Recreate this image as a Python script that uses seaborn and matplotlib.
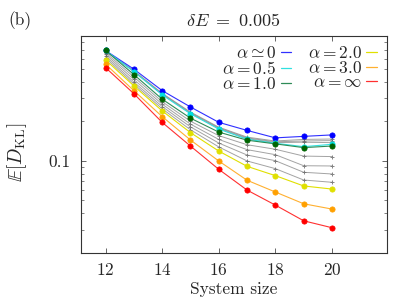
import numpy as np
import pandas as pd
import matplotlib
matplotlib.use("Agg")
import matplotlib.pyplot as plt
import seaborn as sns
from matplotlib.lines import Line2D
from matplotlib.ticker import FixedLocator, NullFormatter

# 데이터
sizes = [12, 13, 14, 15, 16, 17, 18, 19, 20]

alpha_0 = [0.695, 0.501, 0.344, 0.258, 0.197, 0.171, 0.150, 0.154, 0.158]
alpha_05 = [0.695, 0.480, 0.319, 0.229, 0.175, 0.1465, 0.1365, 0.1285, 0.134]
alpha_1 = [0.695, 0.456, 0.296, 0.212, 0.166, 0.144, 0.135, 0.1264, 0.130]
alpha_2 = [0.590, 0.374, 0.241, 0.1645, 0.119, 0.091, 0.0773, 0.0645, 0.0611]
alpha_3 = [0.547, 0.344, 0.218, 0.1446, 0.100, 0.0713, 0.058, 0.0472, 0.043]
alpha_inf = [0.515, 0.326, 0.197, 0.130, 0.0864, 0.060, 0.0461, 0.035, 0.031]

# 중간 alpha 값들 (회색 선)
gray_lines = [
    [0.690, 0.487, 0.328, 0.236, 0.181, 0.152, 0.142, 0.146, 0.147],
    [0.690, 0.484, 0.325, 0.233, 0.179, 0.150, 0.140, 0.142, 0.143],
    [0.690, 0.482, 0.322, 0.231, 0.177, 0.148, 0.138, 0.139, 0.138],
    [0.670, 0.437, 0.283, 0.201, 0.156, 0.133, 0.1228, 0.109, 0.108],
    [0.650, 0.418, 0.271, 0.191, 0.146, 0.122, 0.1117, 0.092, 0.0916],
    [0.630, 0.400, 0.260, 0.182, 0.137, 0.111, 0.1005, 0.082, 0.0796],
    [0.610, 0.386, 0.250, 0.173, 0.128, 0.100, 0.0874, 0.0716, 0.0688],
]

labels = [r'$\alpha\simeq0$', r'$\alpha=0.5$', r'$\alpha=1.0$',
          r'$\alpha=2.0$', r'$\alpha=3.0$', r'$\alpha=\infty$']
series = [alpha_0, alpha_05, alpha_1, alpha_2, alpha_3, alpha_inf]
line_colors = ['#3030ff', '#30e0e0', '#2e8b57', '#e0e000', '#ffb030', '#ff3030']
marker_colors = ['#0000ff', '#00e0e0', '#006400', '#e0e000', '#ffa000', '#ff0000']

# 폰트 설정
sns.set_style("ticks")
plt.rcParams['font.family'] = 'serif'
plt.rcParams['font.serif'] = ['cmr10', 'DejaVu Serif']
plt.rcParams['mathtext.fontset'] = 'cm'
plt.rcParams['axes.formatter.use_mathtext'] = True
plt.rcParams['font.size'] = 12.5

fig = plt.figure(figsize=(3.99, 3.03), dpi=100)
ax = fig.add_axes([0.202, 0.166, 0.767, 0.716])

for g in gray_lines:
    sns.lineplot(x=sizes, y=g, ax=ax, color='0.55', lw=0.7, alpha=0.8,
                 marker='+', markersize=3.5, markeredgewidth=0.7,
                 markeredgecolor='0.4', errorbar=None)

for vals, lc, mc in zip(series, line_colors, marker_colors):
    sns.lineplot(x=sizes, y=vals, ax=ax, color=lc, lw=0.8,
                 marker='o', markersize=3.8, markerfacecolor=mc,
                 markeredgecolor=mc, markeredgewidth=0.5, errorbar=None)

ax.set_yscale('log')
ax.set_xlim(11.12, 21.93)
ax.set_ylim(0.02, 0.9)

ax.set_xticks([12, 14, 16, 18, 20])
ax.yaxis.set_major_locator(FixedLocator([0.1]))
ax.yaxis.set_minor_locator(FixedLocator(
    [0.02, 0.03, 0.04, 0.05, 0.06, 0.07, 0.08, 0.09,
     0.2, 0.3, 0.4, 0.5, 0.6, 0.7, 0.8, 0.9]))
ax.set_yticklabels(['0.1'])
ax.yaxis.set_minor_formatter(NullFormatter())

ax.tick_params(which='both', direction='in', top=True, right=True,
               color='0.3', labelsize=12.5)
ax.tick_params(which='major', length=3.5, width=0.6, pad=7)
ax.tick_params(which='minor', length=2, width=0.5)
for sp in ax.spines.values():
    sp.set_linewidth(0.8)
    sp.set_color('0.2')

ax.set_xlabel('System size', fontsize=12.5, labelpad=2)
ax.set_ylabel('')
fig.text(17 / 399, 1 - 152 / 303, r'$\mathbb{E}[D_{\rm KL}]$', fontsize=14,
         rotation=90, ha='center', va='center')
ax.set_title(r'$\delta E\ =\ 0.005$', fontsize=13, pad=7)
fig.text(0.02, 0.932, '(b)', fontsize=12.5, ha='left', va='center')

handles = [Line2D([], [], color=c, lw=0.9) for c in line_colors]
ax.legend(handles, labels, ncol=2, markerfirst=False, frameon=False,
          loc='upper right', bbox_to_anchor=(0.968, 0.958),
          handlelength=0.6, handletextpad=0.25, columnspacing=0.98,
          labelspacing=-0.05, fontsize=12.5, borderaxespad=0, borderpad=0)

fig.savefig('out.png', dpi=100)
